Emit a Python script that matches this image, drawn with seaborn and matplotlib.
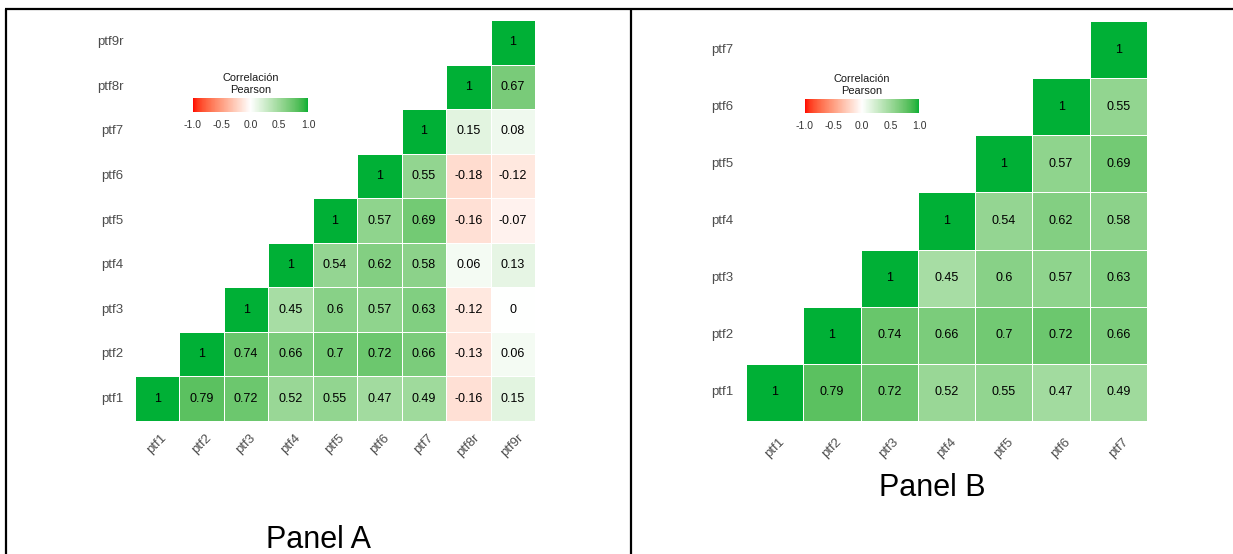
import numpy as np
import pandas as pd
import matplotlib
matplotlib.use("Agg")
import matplotlib.pyplot as plt
from matplotlib.colors import ListedColormap
from matplotlib.lines import Line2D
import seaborn as sns

# ---- data: Pearson correlations, upper triangle (each row starts at its diagonal)
variables_a = ["ptf1", "ptf2", "ptf3", "ptf4", "ptf5", "ptf6", "ptf7", "ptf8r", "ptf9r"]
r_ptf1 = [1, 0.79, 0.72, 0.52, 0.55, 0.47, 0.49, -0.16, 0.15]
r_ptf2 = [1, 0.74, 0.66, 0.70, 0.72, 0.66, -0.13, 0.06]
r_ptf3 = [1, 0.45, 0.60, 0.57, 0.63, -0.12, 0]
r_ptf4 = [1, 0.54, 0.62, 0.58, 0.06, 0.13]
r_ptf5 = [1, 0.57, 0.69, -0.16, -0.07]
r_ptf6 = [1, 0.55, -0.18, -0.12]
r_ptf7 = [1, 0.15, 0.08]
r_ptf8r = [1, 0.67]
r_ptf9r = [1]
rows_a = [r_ptf1, r_ptf2, r_ptf3, r_ptf4, r_ptf5, r_ptf6, r_ptf7, r_ptf8r, r_ptf9r]

# Panel B keeps only the first seven items
variables_b = variables_a[:7]

legend_title = "Correlación\nPearson"
legend_ticks = [-1.0, -0.5, 0.0, 0.5, 1.0]
legend_tick_labels = ["-1.0", "-0.5", "0.0", "0.5", "1.0"]
panel_titles = ["Panel A", "Panel B"]

LOW, MID, HIGH = "#FF0000", "#FFFFFF", "#00B036"


# ---- diverging palette interpolated in CIELAB (like a gradient2 scale)
_M = np.array([[0.4124564, 0.3575761, 0.1804375],
               [0.2126729, 0.7151522, 0.0721750],
               [0.0193339, 0.1191920, 0.9503041]])
_WHITE = _M.sum(axis=1)


def _hex_rgb(h):
    h = h.lstrip("#")
    return np.array([int(h[i:i + 2], 16) / 255 for i in (0, 2, 4)])


def rgb_to_lab(rgb):
    lin = np.where(rgb <= 0.04045, rgb / 12.92, ((rgb + 0.055) / 1.055) ** 2.4)
    xyz = (_M @ lin) / _WHITE
    d = 6 / 29
    f = np.where(xyz > d ** 3, np.cbrt(xyz), xyz / (3 * d ** 2) + 4 / 29)
    return np.array([116 * f[1] - 16, 500 * (f[0] - f[1]), 200 * (f[1] - f[2])])


def lab_to_rgb(lab):
    fy = (lab[..., 0] + 16) / 116
    fx = fy + lab[..., 1] / 500
    fz = fy - lab[..., 2] / 200
    f = np.stack([fx, fy, fz], axis=-1)
    d = 6 / 29
    xyz = np.where(f > d, f ** 3, 3 * d ** 2 * (f - 4 / 29)) * _WHITE
    lin = xyz @ np.linalg.inv(_M).T
    lin = np.clip(lin, 0, None)
    srgb = np.where(lin <= 0.0031308, 12.92 * lin, 1.055 * lin ** (1 / 2.4) - 0.055)
    return np.clip(srgb, 0, 1)


def diverging_lab(low, mid, high, n=256):
    lo, mi, hi = (rgb_to_lab(_hex_rgb(c)) for c in (low, mid, high))
    t = np.linspace(-1, 1, n)[:, None]
    lab = np.where(t < 0, mi + (-t) * (lo - mi), mi + t * (hi - mi))
    return ListedColormap(lab_to_rgb(lab))


cmap = diverging_lab(LOW, MID, HIGH)


def upper_matrix(rows, names):
    n = len(names)
    m = np.full((n, n), np.nan)
    for i in range(n):
        vals = rows[i][: n - i]
        m[i, i:i + len(vals)] = vals
    return pd.DataFrame(m, index=names, columns=names)


def fmt_value(v):
    return "" if np.isnan(v) else f"{v:g}"


# ---- figure
sns.set_theme(style="white")
plt.rcParams["font.family"] = ["Liberation Sans", "DejaVu Sans"]
plt.rcParams["axes.unicode_minus"] = False

W, H = 1233, 554
fig = plt.figure(figsize=(W / 100, H / 100), dpi=100)
fig.patch.set_facecolor("white")


def px_axes(left, top, right, bottom):
    return fig.add_axes([left / W, 1 - bottom / H, (right - left) / W, (bottom - top) / H])


AXIS_GREY = "#4D4D4D"

panels = [
    dict(names=variables_a, box=(135, 20, 535, 421), cbar=(193, 98, 308, 112),
         xpad=7.5, ypad=8.5, title_xy=(318, 548)),
    dict(names=variables_b, box=(746, 21, 1147, 421), cbar=(805, 99, 919, 113),
         xpad=10.5, ypad=9.0, title_xy=(932, 496)),
]

for spec, title in zip(panels, panel_titles):
    df = upper_matrix(rows_a, spec["names"])
    mask = df.isna().to_numpy()
    annot = np.vectorize(fmt_value)(df.to_numpy())

    ax = px_axes(*spec["box"])
    cax = px_axes(*spec["cbar"])
    sns.heatmap(df, ax=ax, cmap=cmap, vmin=-1, vmax=1, mask=mask,
                annot=annot, fmt="", annot_kws={"size": 9, "color": "black"},
                linewidths=0.6, linecolor="white",
                cbar=True, cbar_ax=cax,
                cbar_kws={"orientation": "horizontal", "ticks": legend_ticks})
    ax.invert_yaxis()
    ax.set_xlabel("")
    ax.set_ylabel("")
    ax.tick_params(axis="both", length=0, labelsize=9.5, labelcolor=AXIS_GREY)
    ax.tick_params(axis="x", pad=spec["xpad"])
    ax.tick_params(axis="y", pad=spec["ypad"])
    plt.setp(ax.get_xticklabels(), rotation=45, ha="center", va="top")
    plt.setp(ax.get_yticklabels(), rotation=0, ha="right", va="center")

    cb = ax.collections[0].colorbar
    cb.outline.set_visible(False)
    cb.set_ticks(legend_ticks)
    cb.set_ticklabels(legend_tick_labels)
    cax.tick_params(axis="x", which="both", direction="in", length=2.5, width=0.8,
                    color="white", top=True, bottom=True, labeltop=False,
                    labelbottom=True, labelsize=7.5, labelcolor="#333333", pad=6)
    cax.set_title(legend_title, fontsize=7.9, color="#1A1A1A", pad=3.5, linespacing=1.25)

    fig.text(spec["title_xy"][0] / W, 1 - spec["title_xy"][1] / H, title,
             ha="center", va="baseline", fontsize=22, color="black")

# frame lines around the two panels
frame_kw = dict(transform=fig.transFigure, color="black", linewidth=1.6,
                solid_capstyle="butt")
fig.add_artist(Line2D([6 / W, 6 / W], [0, 1 - 9 / H], **frame_kw))
fig.add_artist(Line2D([631 / W, 631 / W], [0, 1 - 9 / H], **frame_kw))
fig.add_artist(Line2D([5 / W, 1], [1 - 9 / H, 1 - 9 / H], **frame_kw))

fig.savefig("out.png", dpi=100, facecolor="white")
